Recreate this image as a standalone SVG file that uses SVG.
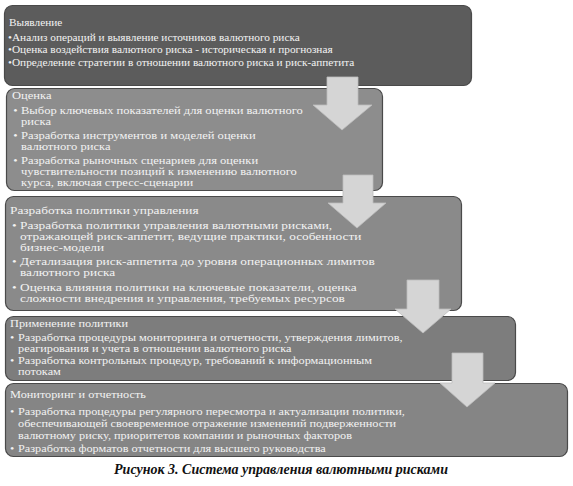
<svg xmlns="http://www.w3.org/2000/svg" width="573" height="486" viewBox="0 0 573 486">
<defs>
<style>
.box{stroke:#4a4a4a;stroke-width:1.2}
.t{font-family:'Liberation Serif','DejaVu Serif',serif;font-size:10.5px;fill:#f2f2f2}
.s{font-size:11.3px}
.arrow{fill:#d5d5d5;stroke:#bcbcbc;stroke-width:0.8}
.cap{font-family:'Liberation Serif','DejaVu Serif',serif;font-size:14px;font-weight:bold;font-style:italic;fill:#111}
</style>
</defs>
<rect width="573" height="486" fill="#ffffff"/>
<g id="node1">
<rect class="box" x="4.5" y="5.5" width="467" height="80" rx="8" fill="#5c5c5c"/>
<text class="t s" x="9" y="26">Выявление</text>
<text class="t s" x="8" y="41">•Анализ операций и выявление источников валютного риска</text>
<text class="t s" x="8" y="53">•Оценка воздействия валютного риска - историческая и прогнозная</text>
<text class="t s" x="8" y="66">•Определение стратегии в отношении валютного риска и риск-аппетита</text>
</g>
<g id="node2">
<rect class="box" x="6.5" y="88.5" width="376" height="102" rx="8" fill="#8d8d8d"/>
<g transform="translate(21,0) scale(1.195,1)">
<text class="t" x="-7.5" y="99">Оценка</text>
<text class="t" y="114"><tspan x="-6.5">•</tspan><tspan x="0">Выбор ключевых показателей для оценки валютного</tspan></text>
<text class="t" x="0" y="125">риска</text>
<text class="t" y="139"><tspan x="-6.5">•</tspan><tspan x="0">Разработка инструментов и моделей оценки</tspan></text>
<text class="t" x="0" y="150">валютного риска</text>
<text class="t" y="164"><tspan x="-6.5">•</tspan><tspan x="0">Разработка рыночных сценариев для оценки</tspan></text>
<text class="t" x="0" y="175">чувствительности позиций к изменению валютного</text>
<text class="t" x="0" y="186">курса, включая стресс-сценарии</text>
</g>
</g>
<g id="node3">
<rect class="box" x="5.5" y="196.5" width="456" height="114" rx="8" fill="#8a8a8a"/>
<g transform="translate(20,0) scale(1.27,1)">
<text class="t" x="-7.9" y="214">Разработка политики управления</text>
<text class="t" y="229"><tspan x="-6.3">•</tspan><tspan x="0">Разработка политики управления валютными рисками,</tspan></text>
<text class="t" x="0" y="240">отражающей риск-аппетит, ведущие практики, особенности</text>
<text class="t" x="0" y="251">бизнес-модели</text>
<text class="t" y="265"><tspan x="-6.3">•</tspan><tspan x="0">Детализация риск-аппетита до уровня операционных лимитов</tspan></text>
<text class="t" x="0" y="276">валютного риска</text>
<text class="t" y="291"><tspan x="-6.3">•</tspan><tspan x="0">Оценка влияния политики на ключевые показатели, оценка</tspan></text>
<text class="t" x="0" y="302">сложности внедрения и управления, требуемых ресурсов</text>
</g>
</g>
<g id="node4">
<rect class="box" x="5.5" y="316.5" width="510" height="64" rx="8" fill="#7d7d7d"/>
<g transform="translate(18,0) scale(1.17,1)">
<text class="t" x="-6.8" y="327">Применение политики</text>
<text class="t" y="341"><tspan x="-6.8">•</tspan><tspan x="0">Разработка процедуры мониторинга и отчетности, утверждения лимитов,</tspan></text>
<text class="t" x="0" y="352">реагирования и учета в отношении валютного риска</text>
<text class="t" y="364"><tspan x="-6.8">•</tspan><tspan x="0">Разработка контрольных процедур, требований к информационным</tspan></text>
<text class="t" x="0" y="375">потокам</text>
</g>
</g>
<g id="node5">
<rect class="box" x="5.5" y="383.5" width="562" height="73" rx="8" fill="#858585"/>
<g transform="translate(18,0) scale(1.17,1)">
<text class="t" x="-6.8" y="398">Мониторинг и отчетность</text>
<text class="t" y="415"><tspan x="-6.8">•</tspan><tspan x="0">Разработка процедуры регулярного пересмотра и актуализации политики,</tspan></text>
<text class="t" x="0" y="427">обеспечивающей своевременное отражение изменений подверженности</text>
<text class="t" x="0" y="439">валютному риску, приоритетов компании и рыночных факторов</text>
<text class="t" y="452"><tspan x="-6.8">•</tspan><tspan x="0">Разработка форматов отчетности для высшего руководства</tspan></text>
</g>
</g>
<g id="connectors">
<polygon class="arrow" points="327,77 358,77 358,105 372,105 342,130 313,105 327,105"/>
<polygon class="arrow" points="343,175 373,175 373,203 386,203 357,228 328,203 343,203"/>
<polygon class="arrow" points="407,280 439,280 439,309 451,309 423,333 395,309 407,309"/>
<polygon class="arrow" points="452,353 483,353 483,383 495,383 467,407 440,383 452,383"/>
</g>
<text class="cap" x="281" y="474" text-anchor="middle">Рисунок 3. Система управления валютными рисками</text>
</svg>
